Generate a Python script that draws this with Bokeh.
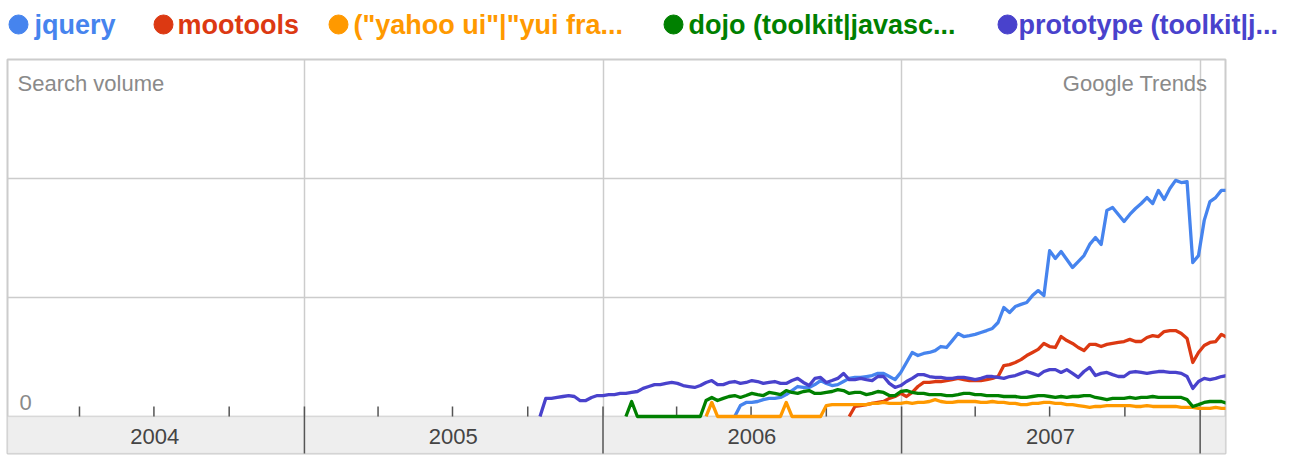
import numpy as np
import pandas as pd
from bokeh.plotting import figure
from bokeh.layouts import column
from bokeh.models import Range1d, FixedTicker, Label, BoxAnnotation
from bokeh.embed import file_html
from bokeh.resources import INLINE
from bokeh.core.properties import value

# ---------------- data ----------------
series_names = ["jquery", "mootools", '("yahoo ui"|"yui fra...',
                "dojo (toolkit|javasc...", "prototype (toolkit|j..."]
series_colors = ["#4684EE", "#DC3912", "#FF9900", "#008000", "#4942CC"]

first_week = "2005-10-16"   # weekly samples start here

# each series: index of its first week, then weekly values (search volume)
jquery_start = 34
jquery = [0, 4.6, 5.9, 5.9, 6.3, 7.1, 7.6,
          7.6, 8, 9.2, 10.9, 12.6, 12.2, 12.2, 13.4, 15.1, 13.9,
          13, 13.4, 14.7, 16, 16.4, 16.4, 16.8, 17.2, 18.1, 18.1,
          16.8, 15.5, 18.5, 22.7, 26.9, 25.6, 26.5, 26.9, 27.7, 29.4,
          29, 31.9, 34.9, 33.6, 34, 34.5, 35.3, 36.1, 37, 39.5,
          45.8, 43.7, 46.2, 47.1, 47.9, 50.8, 52.9, 50.8, 69.7, 66.4,
          69.3, 66, 62.6, 65.1, 67.6, 72.3, 75.2, 72.3, 86.6, 87.8,
          84.9, 81.9, 84.9, 87.4, 89.5, 92, 89.5, 95, 91.2, 95.8,
          99.2, 98.3, 98.7, 64.7, 67.6, 82.4, 90.3, 92, 95, 95]

mootools_start = 54
mootools = [0, 4.2, 4.6, 5, 5.5, 5.9, 6.3,
            7.6, 8.4, 9.7, 8.4, 10.1, 12.6, 14.3, 14.3, 14.7, 14.7,
            15.1, 15.5, 16, 15.5, 15.1, 15.1, 15.1, 15.5, 16, 16.8,
            21.4, 21.8, 22.7, 23.9, 25.6, 26.9, 28.2, 30.7, 29.4, 29,
            33.6, 31.9, 30.7, 29, 27.7, 30.3, 30.3, 29.4, 30.3, 30.7,
            31.1, 31.5, 32.4, 31.5, 31.5, 33.2, 34, 33.6, 35.7, 36.1,
            36.1, 34.9, 32.8, 22.7, 26.9, 29.8, 31.1, 31.5, 34.5, 33.2]

yahoo_start = 29
yahoo = [0, 5.9, 0,
         0, 0, 0, 0, 0, 0, 0, 0, 0, 0, 0,
         5.9, 0,
         0, 0, 0, 0, 0,
         4.6, 5, 5, 5, 5, 5, 5, 5,
         5.5, 5.5, 5.9, 5.5, 5.5, 5.5, 5.9, 5.5, 5.9, 5.9, 6.3, 7.1, 6.3,
         5.9, 5.9, 6.3, 6.3, 6.3, 6.3, 5.9, 5.9, 6.3, 5.9,
         5.9, 5.5, 5.5, 5, 5, 5.5, 5.5, 5.9, 5.9, 5.5,
         5.5, 5, 5, 4.6, 4.2, 3.8, 4.2, 4.2, 4.6, 4.6,
         4.6, 4.6, 4.6, 4.2, 4.2, 4.6, 4.2, 4.2, 4.2, 4.2,
         4.2, 3.8, 3.8, 3.8, 3.4, 3.4, 3.4, 3.8, 3.4, 3.4]

dojo_start = 15
dojo = [0, 6.3,
        0, 0, 0, 0, 0, 0, 0, 0, 0, 0, 0, 0,
        6.7, 8, 6.7, 7.6, 8.4, 8.8, 8, 8.8, 9.7, 9.2, 8.8, 10.1,
        9.7, 9.2, 10.9, 10.1, 9.7, 10.5, 10.9, 9.7, 9.7, 10.1,
        10.5, 11.3, 10.9, 9.7, 10.1, 10.1, 9.2, 9.7, 10.5, 10.1,
        8.8, 8.8, 10.5, 10.9, 10.1, 9.7, 9.7, 9.2, 9.2, 9.2,
        8.8, 8.8, 9.2, 9.7, 9.7, 9.2, 9.2, 8.8, 8.8, 8.8,
        8.4, 8.4, 8.4, 8, 8, 8.4, 8.8, 8.8, 8.4, 8,
        8.4, 8, 8.4, 8.4, 8.8, 8.8, 8, 7.6, 7.1, 7.6,
        7.6, 7.6, 8, 7.6, 8, 8, 8.4, 8, 8, 8,
        8, 8, 7.1, 4.2, 5, 5.9, 6.3, 6.3, 6.3, 5.5]

prototype_start = 0
prototype = [0,
             7.6, 7.6, 8, 8.4, 8.8, 8.4, 6.7, 6.7, 8, 8.8,
             8.8, 9.2, 9.2, 9.7, 9.7, 10.1, 10.5, 11.8, 12.6, 13.4,
             13.4, 13.9, 14.3, 13.9, 13, 12.6, 12.2, 13, 14.3, 15.1,
             13.4, 13.4, 14.3, 14.7, 13.9, 14.3, 15.1, 14.7, 13.9, 14.3,
             14.7, 13.9, 13.9, 15.1, 16, 14.3, 13, 16, 16.4, 14.3,
             15.1, 16, 18.1, 15.5, 15.5, 16, 15.5, 15.1, 16.8, 16.8,
             13.9, 12.2, 13, 14.7, 16, 17.6, 17.6, 16.8, 16.4, 16.4,
             16, 16, 16.4, 16.4, 16, 15.5, 16, 16.8, 16.8, 16.4,
             16, 16.8, 17.2, 18.1, 18.9, 18.1, 17.2, 18.9, 19.7, 19.7,
             18.5, 19.7, 18.1, 16.4, 18.9, 20.6, 17.2, 18.1, 18.5, 17.6,
             16.8, 16.8, 18.5, 18.9, 18.5, 18.1, 18.5, 18.9, 18.9, 18.5,
             18.5, 18.1, 16.8, 11.8, 14.7, 16, 15.5, 16, 16.8, 17.2]

series_values = [jquery, mootools, yahoo, dojo, prototype]
series_starts = [jquery_start, mootools_start, yahoo_start, dojo_start, prototype_start]

years = ["2004", "2005", "2006", "2007"]
year_mids = ["2004-07-02", "2005-07-02", "2006-07-02", "2007-07-02"]
year_bounds = ["2005-01-01", "2006-01-01", "2007-01-01", "2008-01-01"]
quarter_ticks = ["2004-04-01", "2004-07-01", "2004-10-01",
                 "2005-04-01", "2005-07-01", "2005-10-01",
                 "2006-04-01", "2006-07-01", "2006-10-01",
                 "2007-04-01", "2007-07-01", "2007-10-01"]
y_gridlines = [0, 50, 100]
x_start, x_end = "2004-01-04", "2008-02-01"

# ---------------- legend strip ----------------
W = 1292
LEG_H = 58
leg = figure(width=W, height=LEG_H, x_range=Range1d(0, W), y_range=Range1d(0, LEG_H),
             x_axis_location=None, y_axis_location=None,
             toolbar_location=None, output_backend="svg",
             min_border_left=0, min_border_right=0, min_border_top=0, min_border_bottom=0)
leg.frame_align = False
leg.grid.visible = False
leg.outline_line_color = None
legend_dot_x = [18, 163, 338, 673, 1007]
legend_text_x = [34, 177, 353, 688, 1018]
legend_y = 34
leg.scatter(x=legend_dot_x, y=[legend_y] * 5, size=19, marker="circle",
            fill_color=series_colors, line_color=series_colors)
leg.text(x=legend_text_x, y=[legend_y] * 5, text=series_names, text_color=series_colors,
         text_font=value("Liberation Sans"), text_font_size="27px",
         text_font_style="bold", text_baseline="middle")

# ---------------- main chart ----------------
def ms(d):
    return pd.Timestamp(d).value // 10**6

p = figure(width=W, height=455 - LEG_H,
           x_range=Range1d(pd.Timestamp(x_start), pd.Timestamp(x_end)),
           y_range=Range1d(-15.55, 150),
           x_axis_type="datetime", x_axis_location=None, y_axis_location=None,
           toolbar_location=None, output_backend="svg",
           min_border_left=7, min_border_right=67, min_border_top=1, min_border_bottom=2)
p.frame_align = False
p.outline_line_color = "#cccccc"
p.outline_line_width = 2
p.background_fill_color = "white"
p.border_fill_color = "white"

p.xgrid.ticker = FixedTicker(ticks=[ms(d) for d in year_bounds])
p.ygrid.ticker = FixedTicker(ticks=y_gridlines)
p.grid.grid_line_color = "#cccccc"
p.grid.grid_line_width = 1.5

band = BoxAnnotation(top=0, fill_color="#eeeeee", fill_alpha=1.0,
                     line_color="#cccccc", line_width=1.5, level="underlay")
p.add_layout(band)

# ticks
qx = [pd.Timestamp(d) for d in quarter_ticks]
p.segment(x0=qx, y0=[0] * len(qx), x1=qx, y1=[4.2] * len(qx),
          line_color="#555555", line_width=1.5)
bx = [pd.Timestamp(d) for d in year_bounds]
p.segment(x0=bx, y0=[-16] * len(bx), x1=bx, y1=[4.2] * len(bx),
          line_color="#555555", line_width=1.5)

# year labels
p.text(x=[pd.Timestamp(d) for d in year_mids], y=[-8.3] * len(years), text=years,
       text_align="center", text_baseline="middle", text_color="#444444",
       text_font=value("Liberation Sans"), text_font_size="22px")

# series lines
for vals, start, color in zip(series_values, series_starts, series_colors):
    x0 = pd.Timestamp(first_week) + pd.Timedelta(days=7 * start)
    xs = pd.date_range(x0, periods=len(vals), freq="7D")
    p.line(xs, vals, line_color=color, line_width=3.3, line_join="round")

# texts
def lab(x, y, text, **kw):
    p.add_layout(Label(x=x, y=y, x_units="screen", y_units="screen", text=text, **kw))

lab(10, 370, "Search volume", text_color="#8a8a8a", text_font="Liberation Sans",
    text_font_size="22px", text_baseline="middle")
lab(1200, 370, "Google Trends", text_color="#8a8a8a", text_font="Liberation Sans",
    text_font_size="22px", text_baseline="middle", text_align="right")
lab(12, 51, "0", text_color="#8a8a8a", text_font="Liberation Sans",
    text_font_size="22px", text_baseline="middle")

layout = column(leg, p, spacing=0)
open("out.html", "w").write(file_html(layout, INLINE))
